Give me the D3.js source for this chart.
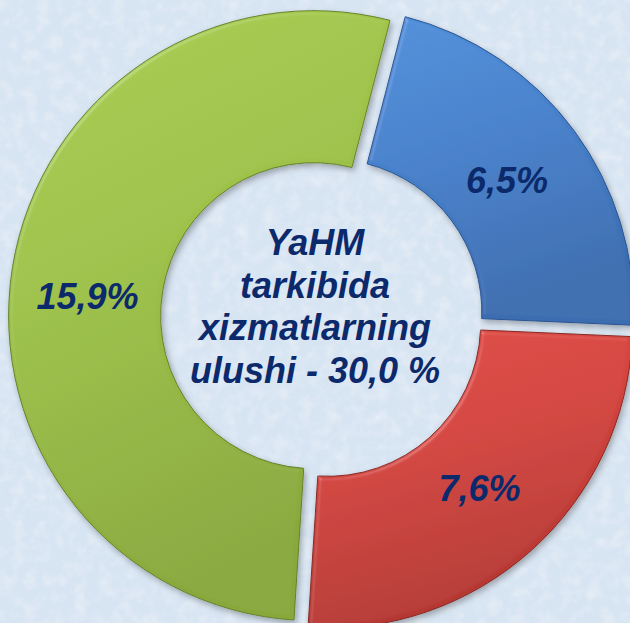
<!DOCTYPE html>
<html>
<head>
<meta charset="utf-8">
<script src="https://cdn.jsdelivr.net/npm/d3@7"></script>
<style>
  html, body { margin: 0; padding: 0; background: #dde8f4; }
  svg { display: block; }
</style>
</head>
<body>
<svg id="chart" width="630" height="623"></svg>
<script>
// ---- data ----
const categories = ["blue", "red", "green"];
const values = [6.5, 7.6, 15.9];
const labels = ["6,5%", "7,6%", "15,9%"];
const centerLines = ["YaHM", "tarkibida", "xizmatlarning", "ulushi - 30,0 %"];

// ---- layout / style ----
const W = 630, H = 623;
const cx = 322, cy = 317;
const outerR = 305, innerR = 153;
const explode = 8.5;
const startDeg = 14.5;
const fills = {
  blue:  ["#4f8fda", "#4681cc", "#3a6db0"],
  red:   ["#e04a43", "#d3433d", "#b33631"],
  green: ["#a9cd4f", "#9dc148", "#88a83b"]
};
const strokes = { blue: "#2c5590", red: "#862824", green: "#66822a" };
const labelNudge = [[-6, 4], [-1, -6], [0, 17]];
const textColor = "#0c2a6b";

const svg = d3.select("#chart");
const defs = svg.append("defs");

// background texture
const bgF = defs.append("filter").attr("id", "tex").attr("x", 0).attr("y", 0).attr("width", "100%").attr("height", "100%");
bgF.append("feTurbulence").attr("type", "fractalNoise").attr("baseFrequency", 0.08).attr("numOctaves", 3).attr("seed", 4).attr("result", "n");
bgF.append("feColorMatrix").attr("in", "n").attr("type", "matrix")
  .attr("values", "0 0 0 0 1  0 0 0 0 1  0 0 0 0 1  1.2 0 0 0 -0.5").attr("result", "w");
bgF.append("feComponentTransfer").attr("in", "w").attr("result", "w2")
  .append("feFuncA").attr("type", "linear").attr("slope", 0.55);
bgF.append("feComposite").attr("in", "w2").attr("in2", "SourceGraphic").attr("operator", "over");

svg.append("rect").attr("width", W).attr("height", H).attr("fill", "#d7e4f2").attr("filter", "url(#tex)");

// slice gradients
categories.forEach(c => {
  const g = defs.append("linearGradient").attr("id", "g-" + c)
    .attr("x1", "0%").attr("y1", "0%").attr("x2", "30%").attr("y2", "100%");
  g.append("stop").attr("offset", "0%").attr("stop-color", fills[c][0]);
  g.append("stop").attr("offset", "45%").attr("stop-color", fills[c][1]);
  g.append("stop").attr("offset", "100%").attr("stop-color", fills[c][2]);
});

// shadow + bevel-ish filter
const sh = defs.append("filter").attr("id", "shadow").attr("x", "-10%").attr("y", "-10%").attr("width", "120%").attr("height", "120%");
sh.append("feGaussianBlur").attr("in", "SourceAlpha").attr("stdDeviation", 3).attr("result", "b");
sh.append("feOffset").attr("in", "b").attr("dx", 2).attr("dy", 3).attr("result", "o");
sh.append("feComponentTransfer").attr("in", "o").attr("result", "os")
  .append("feFuncA").attr("type", "linear").attr("slope", 0.3);
sh.append("feGaussianBlur").attr("in", "SourceAlpha").attr("stdDeviation", 2).attr("result", "ba");
sh.append("feSpecularLighting").attr("in", "ba").attr("surfaceScale", 3).attr("specularConstant", 0.5)
  .attr("specularExponent", 25).attr("lighting-color", "#ffffff").attr("result", "spec")
  .append("feDistantLight").attr("azimuth", 225).attr("elevation", 40);
sh.append("feComposite").attr("in", "spec").attr("in2", "SourceAlpha").attr("operator", "in").attr("result", "specIn");
sh.append("feComposite").attr("in", "SourceGraphic").attr("in2", "specIn").attr("operator", "arithmetic")
  .attr("k1", 0).attr("k2", 1).attr("k3", 0.25).attr("k4", 0).attr("result", "lit");
const merge = sh.append("feMerge");
merge.append("feMergeNode").attr("in", "os");
merge.append("feMergeNode").attr("in", "lit");

const a0 = startDeg * Math.PI / 180;
const pie = d3.pie().sort(null).value(d => d.v).startAngle(a0).endAngle(a0 + 2 * Math.PI);
const arcs = pie(values.map((v, i) => ({ v, c: categories[i], label: labels[i], i })));
const arc = d3.arc().innerRadius(innerR).outerRadius(outerR);

const root = svg.append("g").attr("transform", `translate(${cx},${cy})`);

const off = d => {
  const m = (d.startAngle + d.endAngle) / 2;
  return [explode * Math.sin(m), -explode * Math.cos(m)];
};

const slice = root.selectAll("g.slice").data(arcs).join("g")
  .attr("class", "slice")
  .attr("transform", d => { const o = off(d); return `translate(${o[0]},${o[1]})`; });

slice.append("path")
  .attr("d", arc)
  .attr("fill", d => `url(#g-${d.data.c})`)
  .attr("stroke", d => strokes[d.data.c])
  .attr("stroke-width", 1)
  .attr("filter", "url(#shadow)");

slice.append("text")
  .attr("transform", d => {
    const p = arc.centroid(d);
    const n = labelNudge[d.data.i];
    return `translate(${p[0] + n[0]},${p[1] + n[1]})`;
  })
  .attr("text-anchor", "middle")
  .attr("dy", "0.36em")
  .attr("font-family", "Liberation Sans, Arial, sans-serif")
  .attr("font-weight", "bold")
  .attr("font-style", "italic")
  .attr("font-size", 36)
  .attr("fill", textColor)
  .text(d => d.data.label);

// center text
const ct = svg.append("text")
  .attr("text-anchor", "middle")
  .attr("font-family", "Liberation Sans, Arial, sans-serif")
  .attr("font-weight", "bold")
  .attr("font-style", "italic")
  .attr("font-size", 36)
  .attr("fill", textColor);
centerLines.forEach((t, i) => {
  ct.append("tspan").attr("x", cx - 7).attr("y", 255 + i * 42.7).text(t);
});
</script>
</body>
</html>
